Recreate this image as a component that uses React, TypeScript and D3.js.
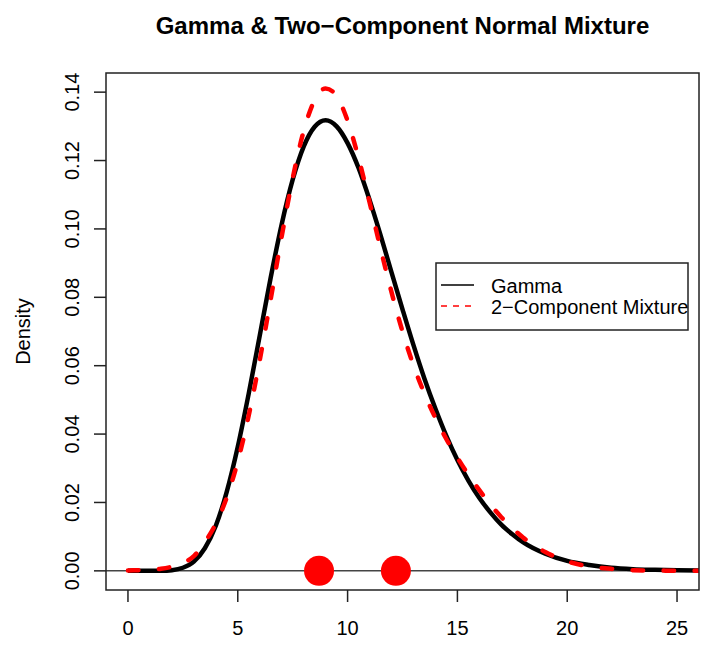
import * as d3 from 'd3'

// grid of x values the two densities were read at
const xs = [
  0, 0.5, 1, 1.5, 2, 2.5, 3, 3.5, 4, 4.5, 5, 5.5, 6, 6.5, 7, 7.5, 8, 8.5, 9,
  9.5, 10, 10.5, 11, 11.5, 12, 12.5, 13, 13.5, 14, 14.5, 15, 15.5, 16, 16.5,
  17, 17.5, 18, 19, 20, 21, 22, 23, 24, 25, 26,
]
const gammaDens = [
  0, 0, 0.0000, 0.00002, 0.0002, 0.0009, 0.0027, 0.0066, 0.0132, 0.0232,
  0.0363, 0.0519, 0.0688, 0.0858, 0.1014, 0.1144, 0.1241, 0.1299, 0.1318,
  0.1300, 0.1251, 0.1178, 0.1085, 0.0982, 0.0873, 0.0765, 0.0660, 0.0562,
  0.0474, 0.0394, 0.0324, 0.0264, 0.0213, 0.0171, 0.0135, 0.0107, 0.0083,
  0.0050, 0.0029, 0.0017, 0.0009, 0.0005, 0.0003, 0.00015, 0.00008,
]
const mixDens = [
  0.0001, 0.0002, 0.0003, 0.0006, 0.0012, 0.0023, 0.0043, 0.0084, 0.0138,
  0.0215, 0.0320, 0.0455, 0.0616, 0.0795, 0.0978, 0.1148, 0.1286, 0.1377,
  0.1411, 0.1389, 0.1316, 0.1207, 0.1078, 0.0943, 0.0815, 0.0700, 0.0601,
  0.0518, 0.0447, 0.0385, 0.0331, 0.0281, 0.0236, 0.0194, 0.0157, 0.0125,
  0.0097, 0.0055, 0.0028, 0.0013, 0.0006, 0.0002, 0.0001, 0.00003, 0,
]
// component means shown as dots on the baseline
const componentMeans = [8.7, 12.2]

const xTicks = [0, 5, 10, 15, 20, 25]
const yTicks = [0, 0.02, 0.04, 0.06, 0.08, 0.1, 0.12, 0.14]
const legendLabels = ['Gamma', '2\u2212Component Mixture']

const W = 712
const H = 645
const BOX = { left: 106, right: 699, top: 73, bottom: 590 }
const FONT = '"Liberation Sans", Arial, Helvetica, sans-serif'

export default function App() {
  const x = d3.scaleLinear().domain([-1, 26]).range([BOX.left, BOX.right])
  const y = d3.scaleLinear().domain([-0.0056, 0.1456]).range([BOX.bottom, BOX.top])

  const line = d3
    .line<number>()
    .x((_, i) => x(xs[i]))
    .y(d => y(d))
    .curve(d3.curveMonotoneX)

  const midY = (BOX.top + BOX.bottom) / 2
  const midX = (BOX.left + BOX.right) / 2

  return (
    <>
      <style>{'body{margin:0}'}</style>
      <svg width={W} height={H} style={{ display: 'block', background: '#fff' }} fontFamily={FONT}>
        <defs>
          <clipPath id="plot-clip">
            <rect x={BOX.left} y={BOX.top} width={BOX.right - BOX.left} height={BOX.bottom - BOX.top} />
          </clipPath>
        </defs>

        {/* title */}
        <text x={midX} y={34} textAnchor="middle" fontSize={24} fontWeight="bold" fill="#000">
          Gamma &amp; Two{'\u2212'}Component Normal Mixture
        </text>

        <g clipPath="url(#plot-clip)">
          {/* baseline h = 0 */}
          <line x1={BOX.left} x2={BOX.right} y1={y(0)} y2={y(0)} stroke="#444" strokeWidth={1.5} />
          <path d={line(gammaDens) ?? ''} fill="none" stroke="#000" strokeWidth={4.5} strokeLinejoin="round" />
          <path
            d={line(mixDens) ?? ''}
            fill="none"
            stroke="#ff0000"
            strokeWidth={4.5}
            strokeDasharray="10.5,20.5"
            strokeLinecap="round"
            strokeLinejoin="round"
          />
          {componentMeans.map(m => (
            <circle key={m} cx={x(m)} cy={y(0)} r={15} fill="#ff0000" />
          ))}
        </g>

        {/* box */}
        <rect
          x={BOX.left}
          y={BOX.top}
          width={BOX.right - BOX.left}
          height={BOX.bottom - BOX.top}
          fill="none"
          stroke="#222"
          strokeWidth={1.5}
        />

        {/* x axis */}
        <g>
          {xTicks.map(t => (
            <g key={t}>
              <line x1={x(t)} x2={x(t)} y1={BOX.bottom} y2={BOX.bottom + 12} stroke="#222" strokeWidth={1.5} />
              <text x={x(t)} y={635} textAnchor="middle" fontSize={20} fill="#000">
                {t}
              </text>
            </g>
          ))}
        </g>

        {/* y axis */}
        <g>
          {yTicks.map(t => (
            <g key={t}>
              <line x1={BOX.left - 12} x2={BOX.left} y1={y(t)} y2={y(t)} stroke="#222" strokeWidth={1.5} />
              <text
                transform={`translate(79,${y(t)}) rotate(-90)`}
                textAnchor="middle"
                fontSize={20}
                fill="#000"
              >
                {d3.format('.2f')(t)}
              </text>
            </g>
          ))}
          <text transform={`translate(30,${midY}) rotate(-90)`} textAnchor="middle" fontSize={20} fill="#000">
            Density
          </text>
        </g>

        {/* legend */}
        <g>
          <rect x={436} y={263} width={252} height={67} fill="#fff" stroke="#222" strokeWidth={1.5} />
          <line x1={441} x2={474} y1={285} y2={285} stroke="#000" strokeWidth={1.5} />
          <line x1={441} x2={474} y1={306} y2={306} stroke="#ff0000" strokeWidth={1.5} strokeDasharray="6,6" />
          <text x={491} y={292.5} fontSize={20} fill="#000">
            {legendLabels[0]}
          </text>
          <text x={491} y={313.5} fontSize={20} fill="#000">
            {legendLabels[1]}
          </text>
        </g>
      </svg>
    </>
  )
}
